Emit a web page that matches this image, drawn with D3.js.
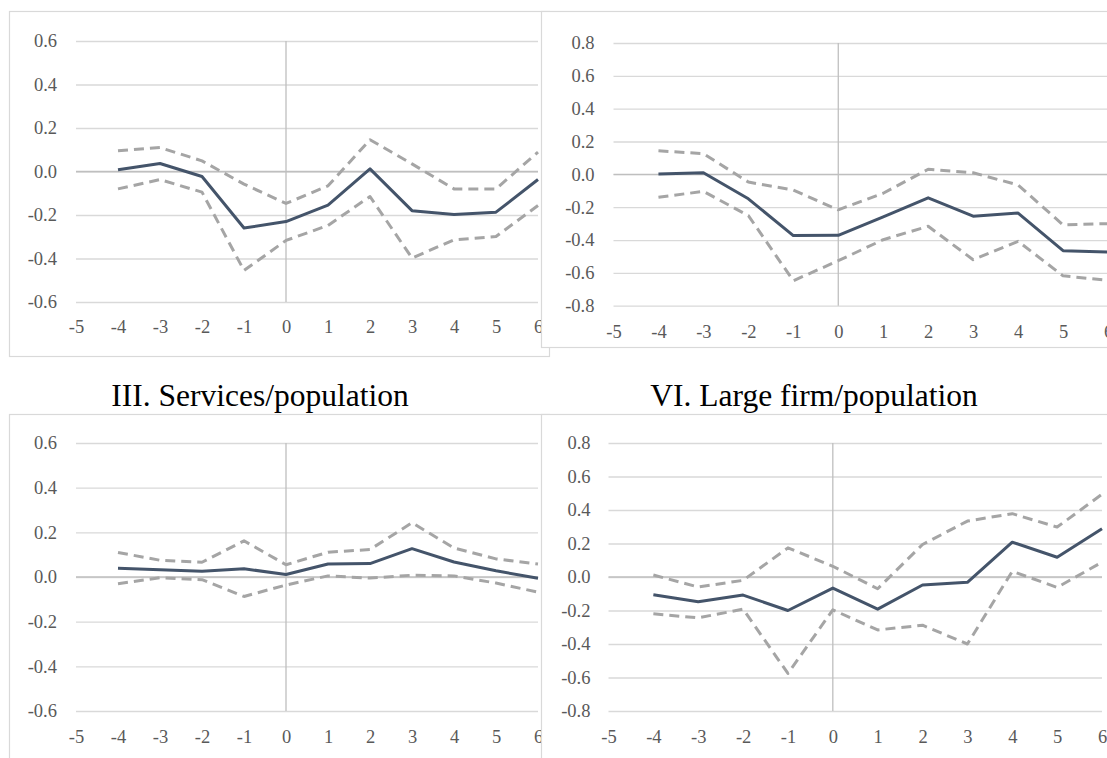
<!DOCTYPE html>
<html>
<head>
<meta charset="utf-8">
<script src="https://cdn.jsdelivr.net/npm/d3@7"></script>
<style>
  html, body { margin: 0; padding: 0; background: #fff; }
  svg { display: block; }
  svg text { font-family: "Liberation Serif", "Times New Roman", "DejaVu Serif", serif; }
</style>
</head>
<body>
<svg id="chart" width="1107" height="758"></svg>
<script>
// Event-time offsets on the horizontal axis
const offsets = [-4, -3, -2, -1, 0, 1, 2, 3, 4, 5, 6];
const xTicks = [-5, -4, -3, -2, -1, 0, 1, 2, 3, 4, 5, 6];
const yTicksNarrow = [-0.6, -0.4, -0.2, 0.0, 0.2, 0.4, 0.6];
const yTicksWide = [-0.8, -0.6, -0.4, -0.2, 0.0, 0.2, 0.4, 0.6, 0.8];

// Panel titles
const titleServices = "III. Services/population";
const titleLargeFirm = "VI. Large firm/population";

// Top-left panel: point estimate with upper / lower confidence bounds
const p1Estimate = [0.008, 0.037, -0.023, -0.26, -0.23, -0.155, 0.012, -0.18, -0.198, -0.187, -0.037];
const p1Upper    = [0.095, 0.11, 0.049, -0.058, -0.147, -0.066, 0.146, 0.035, -0.08, -0.08, 0.089];
const p1Lower    = [-0.08, -0.037, -0.095, -0.455, -0.317, -0.248, -0.115, -0.398, -0.314, -0.299, -0.156];

// Top-right panel
const p2Estimate = [0.002, 0.01, -0.149, -0.373, -0.371, -0.259, -0.143, -0.255, -0.236, -0.465, -0.473];
const p2Upper    = [0.143, 0.126, -0.047, -0.096, -0.216, -0.115, 0.031, 0.01, -0.065, -0.308, -0.30];
const p2Lower    = [-0.139, -0.104, -0.251, -0.648, -0.526, -0.398, -0.316, -0.52, -0.408, -0.618, -0.646];

// III. Services/population
const p3Estimate = [0.039, 0.033, 0.026, 0.037, 0.011, 0.058, 0.06, 0.127, 0.067, 0.028, -0.006];
const p3Upper    = [0.11, 0.075, 0.066, 0.162, 0.055, 0.111, 0.123, 0.243, 0.13, 0.081, 0.058];
const p3Lower    = [-0.03, -0.003, -0.012, -0.087, -0.036, 0.005, -0.005, 0.008, 0.005, -0.027, -0.068];

// VI. Large firm/population
const p4Estimate = [-0.106, -0.148, -0.108, -0.2, -0.066, -0.192, -0.048, -0.032, 0.208, 0.118, 0.288];
const p4Upper    = [0.012, -0.06, -0.02, 0.174, 0.064, -0.07, 0.194, 0.334, 0.378, 0.298, 0.494];
const p4Lower    = [-0.22, -0.244, -0.192, -0.576, -0.196, -0.316, -0.288, -0.4, 0.034, -0.062, 0.088];

const svg = d3.select("#chart");
const serif = '"Liberation Serif", "Times New Roman", serif';

const fmt = v => (Math.abs(v) < 1e-9 ? 0 : v).toFixed(1);

function drawPanel(cfg) {
  const g = svg.append("g");

  // chart frame with white fill (later panels sit over earlier ones)
  g.append("rect")
    .attr("x", cfg.box[0] + 0.5).attr("y", cfg.box[1] + 0.5)
    .attr("width", cfg.box[2]).attr("height", cfg.box[3])
    .attr("fill", "#fff").attr("stroke", "#d9d9d9").attr("stroke-width", 1.2);

  const x = d3.scaleLinear().domain([-5, 6]).range(cfg.xRange);
  const y = d3.scaleLinear().domain(cfg.yDomain).range(cfg.yRange);

  // horizontal gridlines
  const yAxis = d3.axisLeft(y).tickValues(cfg.yTicks).tickFormat(fmt)
    .tickSize(-(cfg.xRange[1] - cfg.xRange[0])).tickPadding(cfg.yPad);
  const ya = g.append("g").attr("transform", `translate(${cfg.xRange[0]},0)`).call(yAxis)
    .attr("font-family", serif);
  ya.select(".domain").remove();
  ya.selectAll(".tick line").attr("stroke", "#d9d9d9").attr("stroke-width", 1.3);
  ya.selectAll(".tick text").attr("fill", "#595959")
    .style("font-family", serif).style("font-size", "18.5px");

  // category labels along the bottom
  const xAxis = d3.axisBottom(x).tickValues(xTicks).tickFormat(d => String(d))
    .tickSize(0).tickPadding(0);
  const xa = g.append("g").attr("transform", `translate(0,${cfg.xLabelY})`).call(xAxis)
    .attr("font-family", serif);
  xa.select(".domain").remove();
  xa.selectAll(".tick text").attr("fill", "#595959").attr("dy", "0.35em")
    .style("font-family", serif).style("font-size", "18.5px");

  // axis lines crossing at zero
  g.append("line")
    .attr("x1", x(-5)).attr("x2", x(6)).attr("y1", y(0)).attr("y2", y(0))
    .attr("stroke", "#bfbfbf").attr("stroke-width", 1.3);
  g.append("line")
    .attr("x1", x(0)).attr("x2", x(0)).attr("y1", y(cfg.yDomain[1])).attr("y2", y(cfg.yDomain[0]))
    .attr("stroke", "#bfbfbf").attr("stroke-width", 1.3);

  const line = d3.line().x((d, i) => x(offsets[i])).y(d => y(d));

  [cfg.upper, cfg.lower].forEach(s => {
    g.append("path").datum(s).attr("d", line)
      .attr("fill", "none").attr("stroke", "#a5a5a5").attr("stroke-width", 3)
      .attr("stroke-dasharray", "10,6").attr("stroke-linejoin", "round");
  });
  g.append("path").datum(cfg.estimate).attr("d", line)
    .attr("fill", "none").attr("stroke", "#44546a").attr("stroke-width", 3)
    .attr("stroke-linejoin", "round");
}

drawPanel({
  box: [9, 11, 540, 345], xRange: [76, 538], yDomain: [-0.6, 0.6], yRange: [302, 41],
  yTicks: yTicksNarrow, yPad: 19, xLabelY: 327,
  estimate: p1Estimate, upper: p1Upper, lower: p1Lower
});
drawPanel({
  box: [541, 11, 600, 336], xRange: [613.5, 1108], yDomain: [-0.8, 0.8], yRange: [305.7, 43],
  yTicks: yTicksWide, yPad: 19, xLabelY: 332,
  estimate: p2Estimate, upper: p2Upper, lower: p2Lower
});
drawPanel({
  box: [9, 414, 540, 400], xRange: [76, 538], yDomain: [-0.6, 0.6], yRange: [711, 443],
  yTicks: yTicksNarrow, yPad: 19, xLabelY: 737,
  estimate: p3Estimate, upper: p3Upper, lower: p3Lower
});
drawPanel({
  box: [541, 414, 600, 400], xRange: [608.5, 1102], yDomain: [-0.8, 0.8], yRange: [711, 443],
  yTicks: yTicksWide, yPad: 18, xLabelY: 737,
  estimate: p4Estimate, upper: p4Upper, lower: p4Lower
});

// panel titles
svg.append("text").attr("x", 260).attr("y", 406).attr("text-anchor", "middle")
  .style("font-family", serif).style("font-size", "31.5px").attr("fill", "#000").text(titleServices);
svg.append("text").attr("x", 814).attr("y", 406).attr("text-anchor", "middle")
  .style("font-family", serif).style("font-size", "31.5px").attr("fill", "#000").text(titleLargeFirm);
</script>
</body>
</html>
